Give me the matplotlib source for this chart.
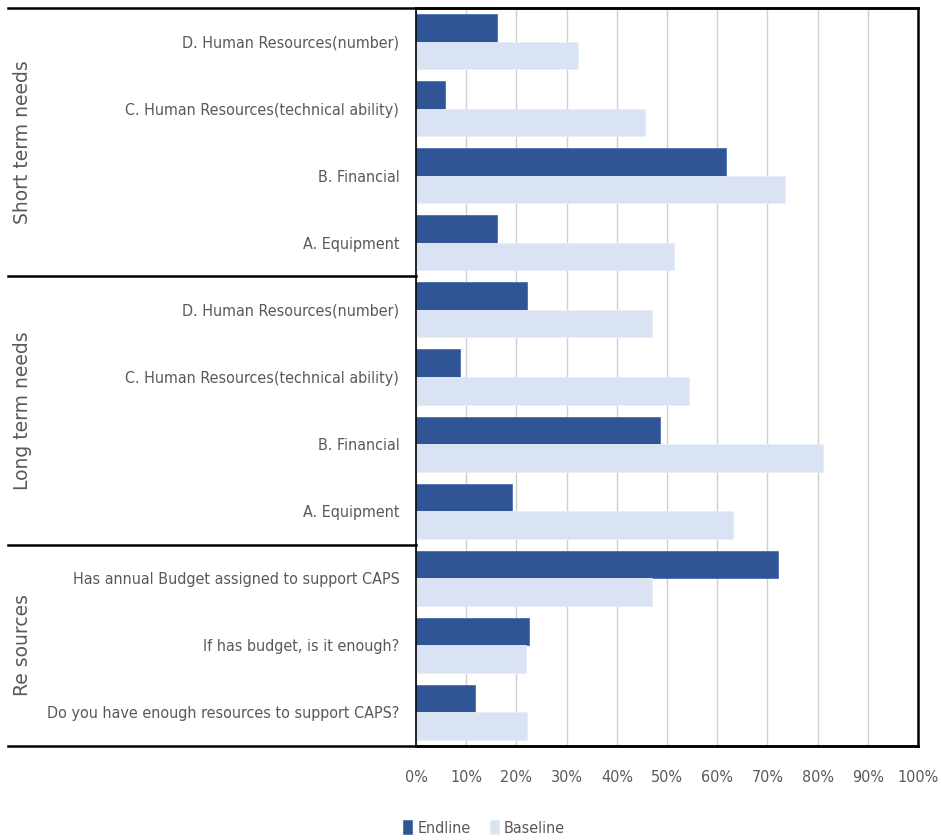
import matplotlib
matplotlib.use("Agg")
import matplotlib.pyplot as plt
from matplotlib.lines import Line2D
from matplotlib.transforms import blended_transform_factory
from matplotlib import font_manager
import numpy as np

categories = [
    "D. Human Resources(number)",
    "C. Human Resources(technical ability)",
    "B. Financial",
    "A. Equipment",
    "D. Human Resources(number)",
    "C. Human Resources(technical ability)",
    "B. Financial",
    "A. Equipment",
    "Has annual Budget assigned to support CAPS",
    "If has budget, is it enough?",
    "Do you have enough resources to support CAPS?",
]
endline = [16.1, 5.8, 61.7, 16.2, 22.1, 8.8, 48.6, 19.1, 72.2, 22.5, 11.8]
baseline = [32.3, 45.6, 73.5, 51.4, 47.1, 54.4, 81.0, 63.2, 47.1, 21.9, 22.1]
groups = ["Short term needs", "Long term needs", "Re sources"]
group_sizes = [4, 4, 3]
xticks = [0, 10, 20, 30, 40, 50, 60, 70, 80, 90, 100]
series_names = ["Endline", "Baseline"]

# pick a condensed font if one is installed
cond = None
for f in font_manager.fontManager.ttflist:
    if "Condensed" in f.fname or "Narrow" in f.name or f.stretch in ("condensed", "semi-condensed", 375, 500):
        if "Bold" not in f.fname and "Oblique" not in f.fname and "Italic" not in f.fname:
            cond = f
            break
if cond is not None:
    FP = font_manager.FontProperties(fname=cond.fname, size=11.5)
else:
    FP = font_manager.FontProperties(family="Liberation Sans", size=11)
FPG = font_manager.FontProperties(family="DejaVu Sans", size=13.5)

TXT = "#595959"
C_END = "#2F5597"
C_BASE = "#DAE3F3"

W, H = 941, 840
fig = plt.figure(figsize=(W / 100, H / 100), dpi=100)
ax = fig.add_axes([416 / W, 1 - 746 / H, (918 - 416) / W, (746 - 8) / H])
ax.set_axisbelow(True)

n = len(categories)
y = np.arange(n)
h = 0.41
ax.barh(y - h / 2, endline, height=h, color=C_END, edgecolor="#4A6FB0", linewidth=0.6,
        label=series_names[0], zorder=2)
ax.barh(y + h / 2, baseline, height=h, color=C_BASE, edgecolor="#E8EEF8", linewidth=0.6,
        label=series_names[1], zorder=2)

ax.set_ylim(n - 0.5, -0.5)
ax.set_xlim(0, 100)
ax.set_xticks(xticks)
ax.set_xticklabels([f"{v}%" for v in xticks], fontproperties=FP, color=TXT)
ax.set_yticks(y)
ax.set_yticklabels(categories, fontproperties=FP, color=TXT)
ax.tick_params(axis="both", length=0)
ax.tick_params(axis="x", pad=17)
ax.tick_params(axis="y", pad=12)
ax.grid(axis="x", color="#D0D0D0", linewidth=1.0, zorder=0)
for k, s in ax.spines.items():
    s.set_color("black")
    s.set_linewidth(1.8)
    s.set_zorder(3)
ax.spines["left"].set_linewidth(1.2)

# group separators and labels
tr = blended_transform_factory(fig.transFigure, ax.transData)
x_left = 8 / W
x_ax = 416 / W
x_right = 918 / W
lines = [(-0.5, x_right), (n - 0.5, x_right)]
start = 0
for g in group_sizes[:-1]:
    start += g
    lines.append((start - 0.5, x_ax))
for yy, xr in lines:
    fig.add_artist(Line2D([x_left, xr], [yy, yy], transform=tr, color="black",
                          linewidth=1.8, clip_on=False))
start = 0
for name, g in zip(groups, group_sizes):
    mid = start + (g - 1) / 2
    fig.text(23 / W, mid, name, transform=tr, rotation=90, ha="center", va="center",
             fontproperties=FPG, color=TXT)
    start += g

leg = fig.legend(loc="center", bbox_to_anchor=(484 / W, 1 - 828 / H), ncol=2, frameon=False,
                 prop=FP, handlelength=0.6, handleheight=0.9,
                 handletextpad=0.3, columnspacing=1.2)
for t in leg.get_texts():
    t.set_color(TXT)

fig.savefig("out.png", dpi=100)
